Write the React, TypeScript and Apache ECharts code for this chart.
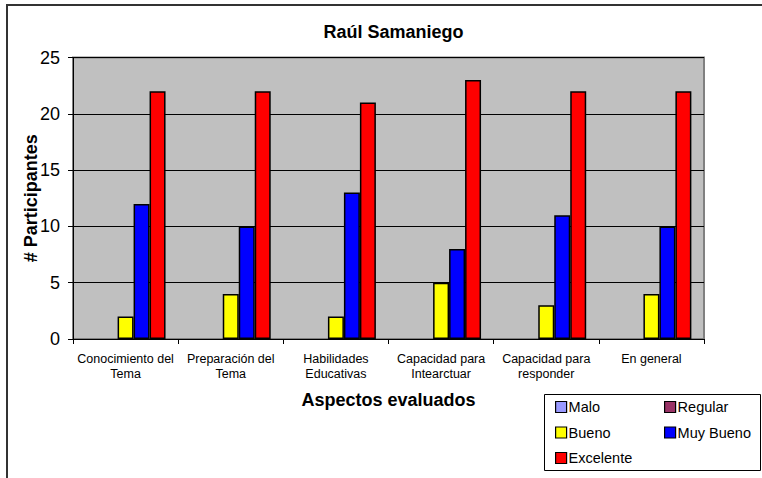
import React, { useEffect, useRef } from "react";
import * as echarts from "echarts";

const categories = [
  "Conocimiento del\nTema",
  "Preparación del\nTema",
  "Habilidades\nEducativas",
  "Capacidad para\nIntearctuar",
  "Capacidad para\nresponder",
  "En general",
];
const seriesNames = ["Malo", "Regular", "Bueno", "Muy Bueno", "Excelente"];
const malo = [0, 0, 0, 0, 0, 0];
const regular = [0, 0, 0, 0, 0, 0];
const bueno = [2, 4, 2, 5, 3, 4];
const muyBueno = [12, 10, 13, 8, 11, 10];
const excelente = [22, 22, 21, 23, 22, 22];
const colors = ["#9999FF", "#993366", "#FFFF00", "#0000FF", "#FF0000"];

const FONT = 'Arial, "Liberation Sans", sans-serif';

// legend slots: column, row
const legendSlots = [
  [0, 0],
  [1, 0],
  [0, 1],
  [1, 1],
  [0, 2],
];

export default function App() {
  const ref = useRef<HTMLDivElement>(null);
  useEffect(() => {
    if (!ref.current) return;
    const chart = echarts.init(ref.current, null, { renderer: "svg" });
    const values = [malo, regular, bueno, muyBueno, excelente];
    const series = seriesNames.map((name, i) => ({
      name,
      type: "bar",
      data: values[i],
      barGap: "0%",
      barCategoryGap: "24%",
      itemStyle: {
        color: colors[i],
        borderColor: "#000",
        borderWidth: values[i].some((v) => v > 0) ? 1.5 : 0,
      },
    }));
    const legends = seriesNames.map((n, i) => ({
      left: 555 + legendSlots[i][0] * 109,
      top: 399 + legendSlots[i][1] * 25.5,
      padding: 0,
      itemWidth: 11,
      itemHeight: 11,
      icon: "rect",
      selectedMode: false,
      data: [
        {
          name: n,
          itemStyle: { color: colors[i], borderColor: "#000", borderWidth: 1.2 },
        },
      ],
      textStyle: {
        fontFamily: FONT,
        fontSize: 14.5,
        lineHeight: 16,
        color: "#000",
        padding: [0, 0, 0, -3],
      },
    }));
    chart.setOption({
      animation: false,
      textStyle: { fontFamily: FONT },
      title: {
        text: "Raúl Samaniego",
        left: 388.5,
        textAlign: "center",
        top: 18,
        textStyle: { fontFamily: FONT, fontSize: 18, fontWeight: "bold", color: "#000" },
      },
      graphic: [
        {
          type: "rect",
          shape: { x: 7, y: 5, width: 800, height: 520 },
          style: { fill: "none", stroke: "#333", lineWidth: 2 },
          silent: true,
          z: -10,
        },
        {
          type: "rect",
          shape: { x: 544.5, y: 394.5, width: 216, height: 76 },
          style: { fill: "#fff", stroke: "#000", lineWidth: 1 },
          silent: true,
          z: -5,
        },
      ],
      legend: legends,
      grid: {
        left: 73,
        right: 58,
        top: 57.5,
        bottom: 139,
        show: true,
        backgroundColor: "#C0C0C0",
        borderColor: "#808080",
        borderWidth: 2,
        containLabel: false,
      },
      xAxis: {
        type: "category",
        data: categories,
        name: "Aspectos evaluados",
        nameLocation: "middle",
        nameGap: 52,
        nameMoveOverlap: false,
        nameTextStyle: { fontFamily: FONT, fontSize: 18, fontWeight: "bold", color: "#000" },
        axisLine: { lineStyle: { color: "#000", width: 1 } },
        axisTick: { show: true, length: 5, alignWithLabel: false, lineStyle: { color: "#000" } },
        axisLabel: {
          interval: 0,
          margin: 12,
          fontFamily: FONT,
          fontSize: 12.5,
          lineHeight: 15,
          color: "#000",
        },
        splitLine: { show: false },
      },
      yAxis: {
        type: "value",
        min: 0,
        max: 25,
        interval: 5,
        name: "# Participantes",
        nameLocation: "middle",
        nameGap: 33,
        nameMoveOverlap: false,
        nameTextStyle: { fontFamily: FONT, fontSize: 18, fontWeight: "bold", color: "#000" },
        axisLine: { show: true, lineStyle: { color: "#000", width: 1 } },
        axisTick: { show: true, length: 5, lineStyle: { color: "#000" } },
        axisLabel: { margin: 13, fontFamily: FONT, fontSize: 18, color: "#000" },
        splitLine: { show: true, lineStyle: { color: "#000", width: 1 } },
      },
      series,
    });
    return () => chart.dispose();
  }, []);
  return (
    <div
      ref={ref}
      style={{ position: "fixed", left: 0, top: 0, width: 762, height: 478, background: "#fff" }}
    />
  );
}
